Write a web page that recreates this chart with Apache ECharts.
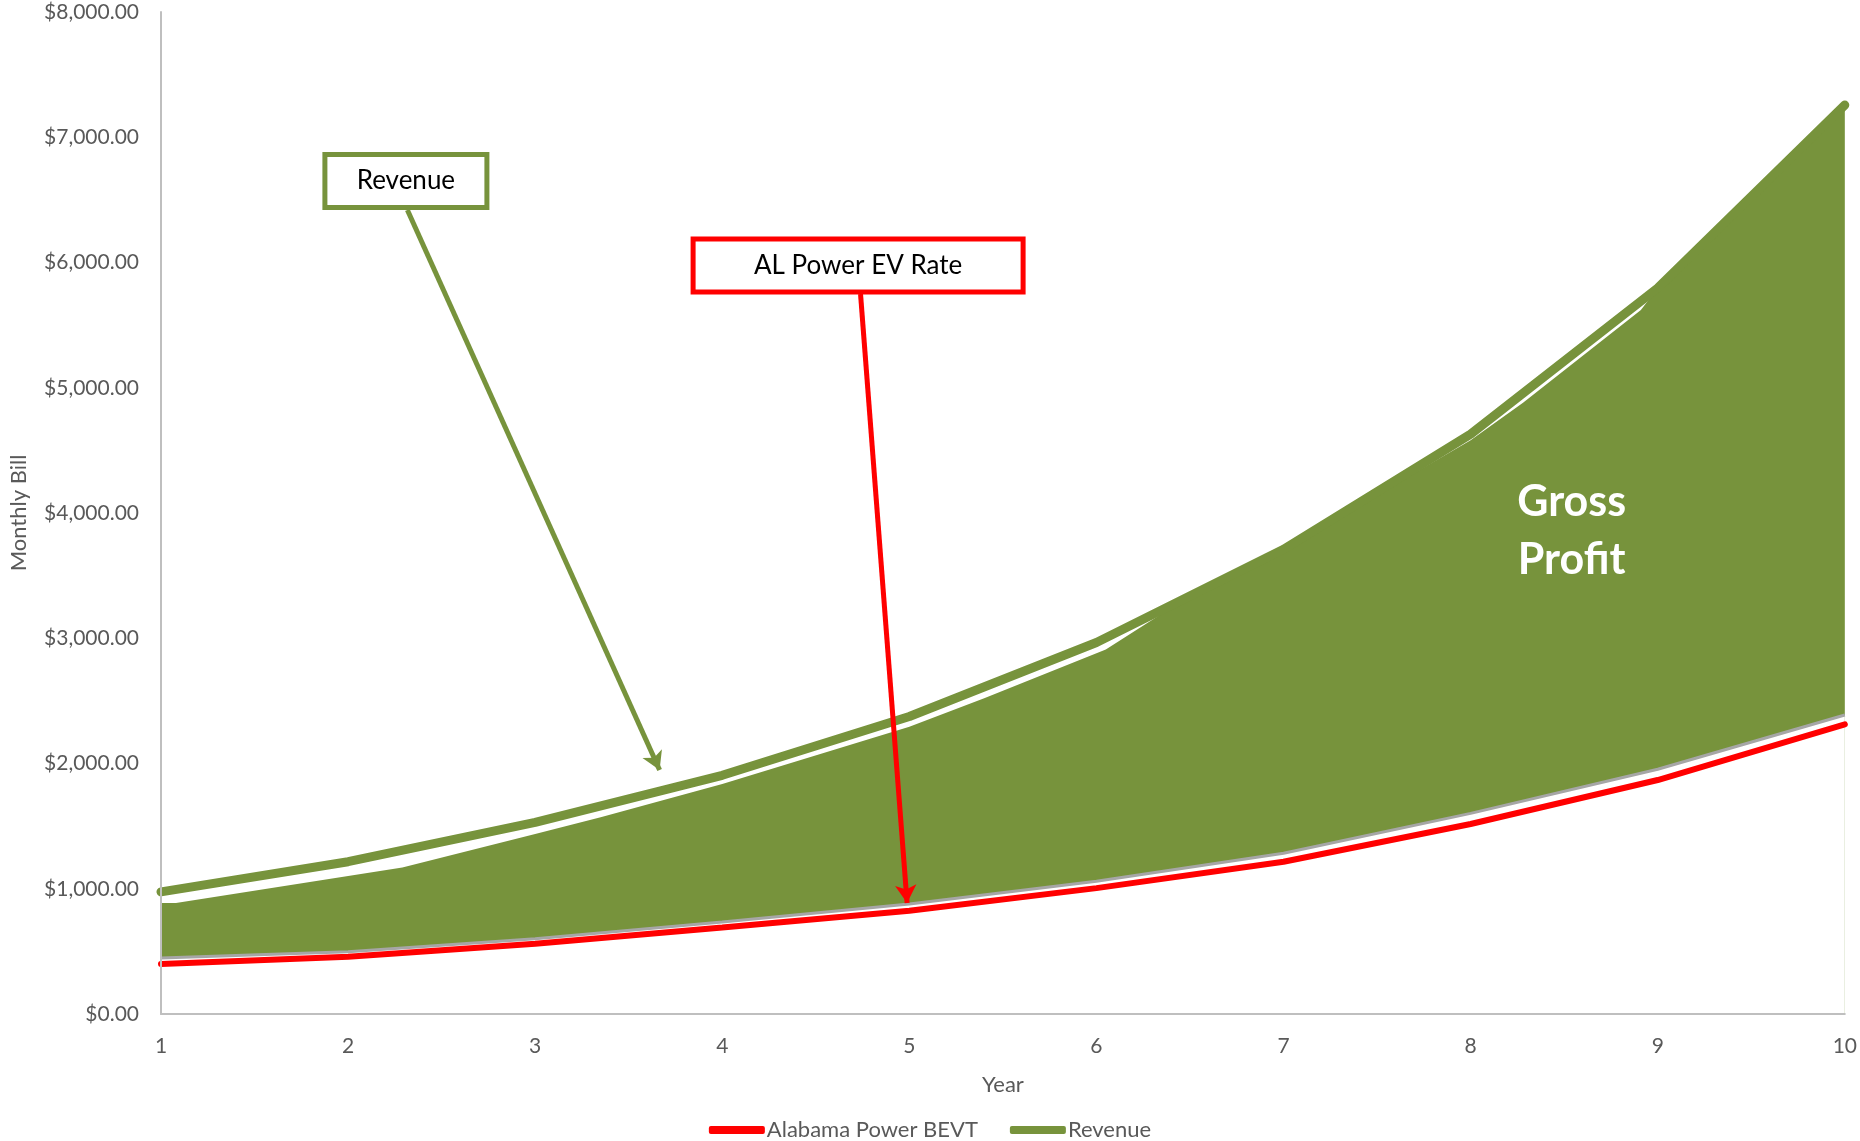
<!DOCTYPE html>
<html>
<head>
<meta charset="utf-8">
<script src="https://cdn.jsdelivr.net/npm/echarts@6/dist/echarts.min.js"></script>
<style>
html,body{margin:0;padding:0;background:#fff;}
#chart{width:1860px;height:1141px;}
</style>
</head>
<body>
<div id="chart"></div>
<script>
const years = [1, 2, 3, 4, 5, 6, 7, 8, 9, 10];
const alabamaPowerBEVT = [400, 458, 560, 690, 825, 1005, 1216, 1517, 1868, 2313];
const revenue = [975, 1216, 1530, 1906, 2375, 2966, 3710, 4630, 5796, 7257];
const profitBase = [447, 497, 600, 735, 878, 1060, 1283, 1602, 1954, 2387];
const profitTopX = [1, 1.08, 2.29, 3, 3.35, 4, 5, 5.4, 6.05, 6.5, 7, 8, 8.28, 8.91, 9, 10];
const profitTopY = [886, 886, 1170, 1437, 1570, 1836, 2294, 2520, 2910, 3340, 3710, 4580, 4880, 5620, 5796, 7257];
const yTicks = { min: 0, max: 8000, interval: 1000 };

const GREEN = '#77933C';
const RED = '#FF0000';
const FONT = 'Lato';

const pairs = (xs, ys) => xs.map((x, i) => [x, ys[i]]);
const money = v => '$' + Number(v).toLocaleString('en-US', { minimumFractionDigits: 2, maximumFractionDigits: 2 });

const chart = echarts.init(document.getElementById('chart'));
chart.setOption({
  animation: false,
  backgroundColor: '#fff',
  textStyle: { fontFamily: FONT },
  grid: { left: 156, right: 15, top: 12, bottom: 127 },
  legend: {
    left: 'center', top: 1114,
    itemWidth: 56, itemHeight: 8, itemGap: 32,
    textStyle: { color: '#595959', fontSize: 22, fontFamily: FONT, padding: [0, 0, 0, -3] },
    data: [
      { name: 'Alabama Power BEVT', icon: 'roundRect', itemStyle: { color: RED } },
      { name: 'Revenue', icon: 'roundRect', itemStyle: { color: GREEN } }
    ]
  },
  xAxis: {
    type: 'value', min: 1, max: 10, interval: 1, z: 5,
    name: 'Year', nameLocation: 'middle', nameGap: 60,
    nameTextStyle: { color: '#595959', fontSize: 22, fontFamily: FONT },
    axisLine: { show: true, lineStyle: { color: '#bfbfbf', width: 2 } },
    axisTick: { show: false },
    splitLine: { show: false },
    axisLabel: { color: '#595959', fontSize: 21, fontFamily: FONT, margin: 22 }
  },
  yAxis: {
    type: 'value', min: yTicks.min, max: yTicks.max, interval: yTicks.interval, z: 5,
    name: 'Monthly Bill', nameLocation: 'middle', nameGap: 131,
    nameTextStyle: { color: '#595959', fontSize: 22, fontFamily: FONT },
    axisLine: { show: true, lineStyle: { color: '#bfbfbf', width: 2 } },
    axisTick: { show: false },
    splitLine: { show: false },
    axisLabel: { color: '#595959', fontSize: 21, fontFamily: FONT, margin: 22, formatter: money }
  },
  series: [
    {
      name: 'Gross Profit Top', type: 'line', showSymbol: false, silent: true,
      data: pairs(profitTopX, profitTopY),
      lineStyle: { width: 0 },
      itemStyle: { color: GREEN },
      areaStyle: { color: GREEN, opacity: 1 },
      z: 2
    },
    {
      name: 'Gross Profit Base', type: 'line', showSymbol: false, silent: true,
      data: pairs(years, profitBase),
      lineStyle: { width: 3, color: '#a6a6a6' },
      itemStyle: { color: '#a6a6a6' },
      areaStyle: { color: '#ffffff', opacity: 1 },
      z: 2
    },
    {
      name: 'Alabama Power BEVT', type: 'line', showSymbol: false,
      data: pairs(years, alabamaPowerBEVT),
      lineStyle: { width: 6, color: RED, cap: 'round' },
      itemStyle: { color: RED },
      z: 3
    },
    {
      name: 'Revenue', type: 'line', showSymbol: false,
      data: pairs(years, revenue),
      lineStyle: { width: 9, color: GREEN, cap: 'round', join: 'round' },
      itemStyle: { color: GREEN },
      z: 4,
      markLine: {
        silent: true, animation: false,
        symbol: ['none', 'arrow'], symbolSize: [16, 18],
        label: { show: false },
        emphasis: { disabled: true },
        data: [
          [{ coord: [2.317, 6419], lineStyle: { color: GREEN, width: 5, type: 'solid' } }, { coord: [3.665, 1948] }],
          [{ coord: [4.739, 5749], lineStyle: { color: RED, width: 5, type: 'solid' } }, { coord: [4.988, 886] }]
        ]
      },
      markPoint: {
        silent: true, animation: false,
        symbol: 'rect', symbolSize: 1,
        itemStyle: { color: 'rgba(0,0,0,0)' },
        data: [
          { coord: [2.309, 6650], label: { show: true, position: 'inside', formatter: 'Revenue', color: '#000', fontSize: 26, fontFamily: FONT,
              backgroundColor: '#fff', borderColor: GREEN, borderWidth: 5, width: 157, height: 48, lineHeight: 48, align: 'center', verticalAlign: 'middle' } },
          { coord: [4.726, 5977], label: { show: true, position: 'inside', formatter: 'AL Power EV Rate', color: '#000', fontSize: 26, fontFamily: FONT,
              backgroundColor: '#fff', borderColor: RED, borderWidth: 5, width: 325, height: 48, lineHeight: 48, align: 'center', verticalAlign: 'middle' } },
          { coord: [8.54, 3856], label: { show: true, position: 'inside', formatter: 'Gross\nProfit', color: '#fff', fontSize: 43, fontWeight: 'bold', fontFamily: FONT,
              lineHeight: 58, align: 'center', verticalAlign: 'middle' } }
        ]
      }
    }
  ]
});
</script>
</body>
</html>
